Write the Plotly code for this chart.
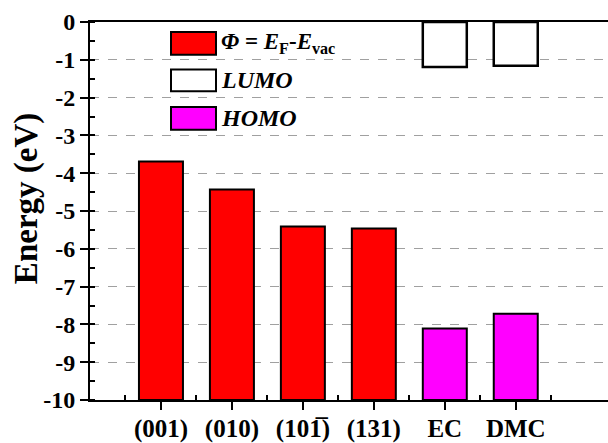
import plotly.graph_objects as go

# ---- data ----
categories = ["(001)", "(010)", "(101\u0305)", "(131)", "EC", "DMC"]
cat_pos = [1, 2, 3, 4, 5, 6]
work_function = [-3.69, -4.43, -5.41, -5.46]      # Φ = E_F - E_vac
homo = [-8.11, -7.72]                               # EC, DMC
lumo = [-1.19, -1.16]                               # EC, DMC
y_ticks = [0, -1, -2, -3, -4, -5, -6, -7, -8, -9, -10]
legend_labels = ["<b><i>Φ</i> = <i>E</i><sub>F</sub>-<i>E</i><sub>vac</sub></b>",
                 "<b><i>LUMO</i></b>", "<b><i>HOMO</i></b>"]
legend_sizes = [23, 24, 24]

BASE = -10
W, H = 608, 443
L, R, T, B = 90, 0, 22, 39
FONT = "Liberation Serif"

fig = go.Figure()
fig.add_trace(go.Bar(x=cat_pos[:4], y=[v - BASE for v in work_function], base=BASE,
                     width=0.62, marker=dict(color="#FF0000", line=dict(color="black", width=2))))
fig.add_trace(go.Bar(x=cat_pos[4:], y=[v - BASE for v in homo], base=BASE,
                     width=0.62, marker=dict(color="#FF00FF", line=dict(color="black", width=2))))
fig.add_trace(go.Bar(x=cat_pos[4:], y=lumo, base=0,
                     width=0.62, marker=dict(color="white", line=dict(color="black", width=2.5))))

def px2paper(px, py):
    return (px - L) / (W - L - R), (H - B - py) / (H - T - B)

# legend drawn manually
legend_boxes = [(171, 32, 216, 55, "#FF0000"), (171, 70, 216, 92, "white"), (171, 108, 216, 131, "#FF00FF")]
shapes = []
annotations = []
for (x0, y0, x1, y1, c), lab, fs in zip(legend_boxes, legend_labels, legend_sizes):
    a0, b0 = px2paper(x0, y1)
    a1, b1 = px2paper(x1, y0)
    shapes.append(dict(type="rect", xref="paper", yref="paper", x0=a0, y0=b0, x1=a1, y1=b1,
                       fillcolor=c, line=dict(color="black", width=2), layer="above"))
    tx, ty = px2paper(x1 + 3, (y0 + y1) / 2)
    annotations.append(dict(xref="paper", yref="paper", x=tx, y=ty, text=lab, showarrow=False,
                            xanchor="left", yanchor="middle",
                            font=dict(family=FONT, size=fs, color="black")))

# y title
annotations.append(dict(xref="paper", yref="paper", x=px2paper(26, 0)[0], y=px2paper(0, 201)[1],
                        text="<b>Energy (eV)</b>", textangle=-90, showarrow=False,
                        xanchor="center", yanchor="middle",
                        font=dict(family=FONT, size=33, color="black")))

fig.update_layout(
    width=W, height=H, margin=dict(l=L, r=R, t=T, b=B, pad=0),
    paper_bgcolor="white", plot_bgcolor="white",
    barmode="overlay", showlegend=False,
    shapes=shapes, annotations=annotations,
    font=dict(family=FONT, color="black"),
)
fig.update_xaxes(
    range=[0, 7.3], tickvals=cat_pos, ticktext=categories,
    tickfont=dict(family=FONT, size=25, color="black", weight="bold"),
    ticklabelstandoff=-3,
    showline=True, linecolor="black", linewidth=2, mirror=True,
    ticks="outside", ticklen=8, tickwidth=2, tickcolor="black",
    minor=dict(tickvals=[0.5, 1.5, 2.5, 3.5, 4.5, 5.5, 6.5], ticks="inside", ticklen=5, tickwidth=2, tickcolor="black"),
    showgrid=False, zeroline=False,
)
fig.update_yaxes(
    range=[-10, 0], tickvals=y_ticks, ticktext=[str(t) for t in y_ticks],
    tickfont=dict(family=FONT, size=24, color="black", weight="bold"),
    showline=True, linecolor="black", linewidth=2, mirror=False,
    ticks="outside", ticklen=8, tickwidth=2, tickcolor="black",
    minor=dict(dtick=0.5, ticks="inside", ticklen=5, tickwidth=2, tickcolor="black", showgrid=False),
    showgrid=True, gridcolor="#a0a0a0", griddash="dash", gridwidth=1,
    zeroline=False,
)

fig.write_html("out.html")
